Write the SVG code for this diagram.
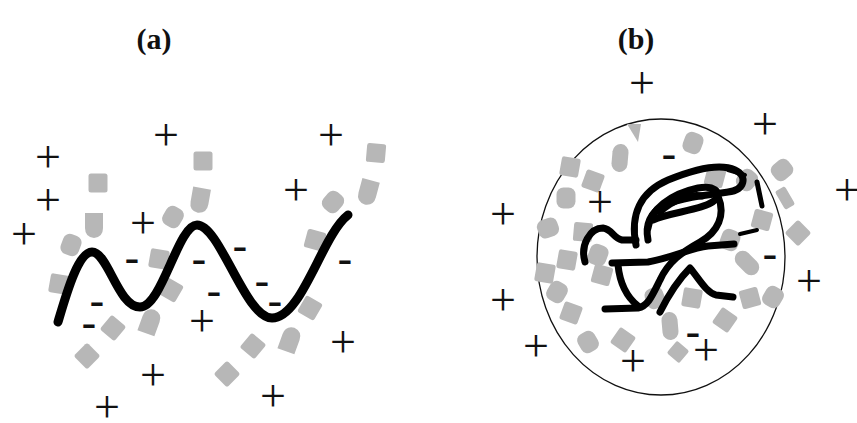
<svg xmlns="http://www.w3.org/2000/svg" width="857" height="423" viewBox="0 0 857 423">
<style>
.lbl{font-family:"Liberation Serif",serif;font-weight:bold;font-size:30px;text-anchor:middle;fill:#111}
.p{font-family:"Liberation Serif",serif;font-size:46px;text-anchor:middle;fill:#111}
.m{font-family:"Liberation Sans",sans-serif;font-size:46px;text-anchor:middle;fill:#111}
.g{fill:#b7b7b7}
.chain{fill:none;stroke:#000;stroke-width:9;stroke-linecap:round;stroke-linejoin:round}
.coil{fill:none;stroke:#000;stroke-width:7;stroke-linecap:round;stroke-linejoin:round}
</style>
<defs>
<rect id="sq" x="-9.5" y="-9.5" width="19" height="19" rx="2.5"/>
<path id="sh" d="M-9,-12 L9,-12 L9,3 Q9,12 0,13 Q-9,12 -9,3 Z"/>
<rect id="rd" x="-9.5" y="-10.5" width="19" height="21" rx="7"/>
<rect id="ov" x="-8" y="-14" width="16" height="28" rx="8"/>
</defs>
<rect width="857" height="423" fill="#fff"/>
<text class="lbl" x="154" y="49">(a)</text>
<text class="lbl" x="636" y="49">(b)</text>

<g id="panel-a">
<g id="blobs-a" class="g">
<use href="#sq" transform="translate(98,183)"/>
<use href="#sh" transform="translate(94,225)"/>
<use href="#rd" transform="translate(71,245) rotate(20)"/>
<use href="#sq" transform="translate(59,284) rotate(10)"/>
<use href="#sq" transform="translate(113,328) rotate(40)"/>
<use href="#sq" transform="translate(87,356) rotate(45)"/>
<use href="#sh" transform="translate(150,322) rotate(200)"/>
<use href="#sq" transform="translate(159,259) rotate(10)"/>
<use href="#sq" transform="translate(171,290) rotate(30)"/>
<use href="#rd" transform="translate(173,217) rotate(30)"/>
<use href="#sh" transform="translate(200,200) rotate(10)"/>
<use href="#sq" transform="translate(203,161)"/>
<use href="#sq" transform="translate(227,374) rotate(45)"/>
<use href="#sq" transform="translate(253,346) rotate(40)"/>
<use href="#sh" transform="translate(290,340) rotate(200)"/>
<use href="#sq" transform="translate(310,308) rotate(30)"/>
<use href="#sq" transform="translate(315,240) rotate(15)"/>
<use href="#rd" transform="translate(333,202) rotate(40)"/>
<use href="#sh" transform="translate(368,192) rotate(15)"/>
<use href="#sq" transform="translate(376,153) rotate(5)"/>
</g>
<path id="chain-a" class="chain" d="M58,322 C66,295 78,252 92,252 C108,252 118,307 140,307 C162,307 178,225 197,225 C220,225 245,318 272,318 C302,318 322,235 348,215"/>
<g id="plus-a">
<text class="p" x="48" y="172">+</text>
<text class="p" x="48" y="215">+</text>
<text class="p" x="24" y="249">+</text>
<text class="p" x="166" y="150">+</text>
<text class="p" x="143" y="238">+</text>
<text class="p" x="331" y="150">+</text>
<text class="p" x="296" y="205">+</text>
<text class="p" x="202" y="336">+</text>
<text class="p" x="343" y="357">+</text>
<text class="p" x="153" y="390">+</text>
<text class="p" x="107" y="422">+</text>
<text class="p" x="273" y="411">+</text>
</g>
<g id="minus-a">
<text class="m" x="132" y="274">-</text>
<text class="m" x="97" y="317">-</text>
<text class="m" x="89" y="339">-</text>
<text class="m" x="199" y="275">-</text>
<text class="m" x="240" y="262">-</text>
<text class="m" x="214" y="307">-</text>
<text class="m" x="262" y="297">-</text>
<text class="m" x="275" y="317">-</text>
<text class="m" x="345" y="275">-</text>
</g>
</g>

<g id="panel-b">
<ellipse id="globule" cx="661" cy="257" rx="124" ry="138" fill="none" stroke="#111" stroke-width="1.3"/>
<g id="blobs-b" class="g">
<path d="M627,124 L641,124 L638,142 Z"/>
<use href="#rd" transform="translate(693,143) rotate(20)"/>
<use href="#ov" transform="translate(620,158) rotate(5)"/>
<use href="#sq" transform="translate(570,167) rotate(10)"/>
<use href="#sq" transform="translate(593,181) rotate(20)"/>
<use href="#rd" transform="translate(566,198)"/>
<use href="#rd" transform="translate(548,228) rotate(70)"/>
<use href="#sq" transform="translate(583,232) rotate(5)"/>
<use href="#sq" transform="translate(567,260) rotate(10)"/>
<use href="#rd" transform="translate(598,255) rotate(20)"/>
<use href="#sq" transform="translate(545,273) rotate(10)"/>
<use href="#rd" transform="translate(557,292) rotate(30)"/>
<use href="#sq" transform="translate(571,313) rotate(20)"/>
<use href="#rd" transform="translate(588,342) rotate(-30)"/>
<use href="#sq" transform="translate(623,340) rotate(35)"/>
<use href="#rd" transform="translate(655,298) rotate(-20)"/>
<use href="#ov" transform="translate(670,326) rotate(-5)"/>
<use href="#sq" transform="translate(678,352) rotate(40) scale(0.85)"/>
<use href="#sq" transform="translate(692,298) rotate(10)"/>
<use href="#sq" transform="translate(725,320) rotate(35)"/>
<use href="#sq" transform="translate(750,298) rotate(-15)"/>
<use href="#rd" transform="translate(773,297) rotate(30)"/>
<use href="#ov" transform="translate(747,263) rotate(-45)"/>
<use href="#rd" transform="translate(730,240) rotate(20)"/>
<use href="#sq" transform="translate(762,220) rotate(15)"/>
<use href="#sq" transform="translate(798,233) rotate(45)"/>
<use href="#rd" transform="translate(782,170) rotate(50)"/>
<use href="#sq" transform="translate(785,198) rotate(-30) scale(0.6,1.1)"/>
<use href="#sq" transform="translate(715,177) rotate(15)"/>
<use href="#rd" transform="translate(747,180) rotate(40)"/>
<use href="#sq" transform="translate(602,275) rotate(15)"/>
</g>
<g id="coil" class="coil">
<path d="M585,262 C580,245 590,228 603,228 C612,229 613,238 622,240 L636,240"/>
<path d="M636,245 C630,215 640,192 668,180 C690,171 718,162 735,170 C748,176 745,190 728,192 C705,195 680,198 665,205 C650,212 645,225 648,240"/>
<path d="M648,228 C650,210 670,194 698,188 C714,185 722,192 715,200 C705,210 670,212 653,220"/>
<path d="M660,212 C672,200 690,194 702,196"/>
<path d="M612,263 L648,262 C672,258 690,248 708,246 L734,244"/>
<path d="M718,196 C726,215 718,232 700,242 C682,252 668,262 660,280 C652,296 648,306 638,308 L605,309"/>
<path d="M618,265 C620,285 628,298 638,306"/>
<path d="M660,312 C666,300 676,282 690,268 C700,280 706,292 716,295 L733,297"/>
<path d="M757,182 L762,206" stroke-width="5"/>
<path d="M740,234 L757,230" stroke-width="4"/>
<path d="M728,170 L745,175" stroke-width="4"/>
</g>
<g id="plus-b">
<text class="p" x="642" y="98">+</text>
<text class="p" x="765" y="139">+</text>
<text class="p" x="847" y="205">+</text>
<text class="p" x="503" y="229">+</text>
<text class="p" x="600" y="217">+</text>
<text class="p" x="809" y="296">+</text>
<text class="p" x="503" y="315">+</text>
<text class="p" x="536" y="361">+</text>
<text class="p" x="633" y="376">+</text>
<text class="p" x="706" y="365">+</text>
</g>
<g id="minus-b">
<text class="m" x="669" y="170">-</text>
<text class="m" x="770" y="270">-</text>
<text class="m" x="693" y="348">-</text>
</g>
</g>
</svg>
